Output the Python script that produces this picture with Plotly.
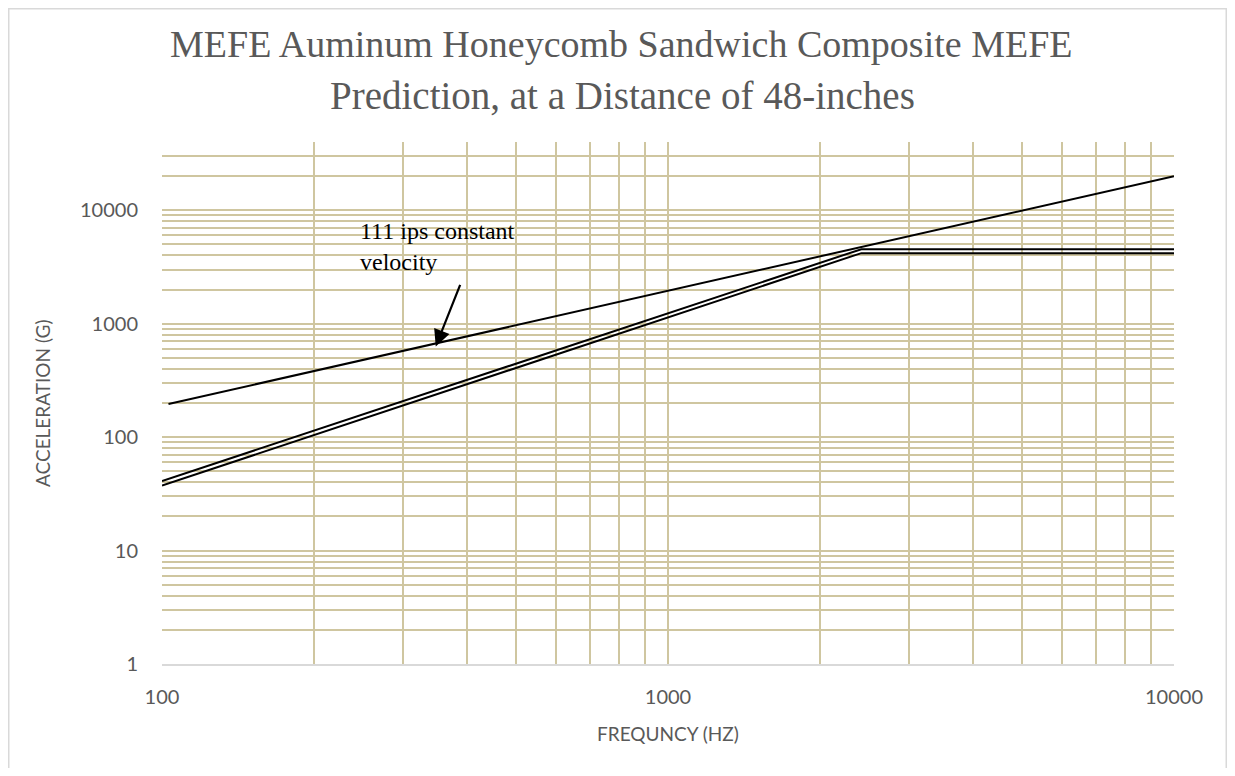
import plotly.graph_objects as go

# ---- data ----
velocity_freq = [103, 10000]
velocity_accel = [196, 20000]

mefe_freq = [100, 2410, 10000]
mefe_upper_accel = [41, 4540, 4540]
mefe_lower_accel = [37.4, 4190, 4190]

x_grid = [100, 200, 300, 400, 500, 600, 700, 800, 900,
          1000, 2000, 3000, 4000, 5000, 6000, 7000, 8000, 9000, 10000]
x_labels = {100: "100", 1000: "1000", 10000: "10000"}
y_grid = [1, 2, 3, 4, 5, 6, 7, 8, 9,
          10, 20, 30, 40, 50, 60, 70, 80, 90,
          100, 200, 300, 400, 500, 600, 700, 800, 900,
          1000, 2000, 3000, 4000, 5000, 6000, 7000, 8000, 9000,
          10000, 20000, 30000, 40000]
y_labels = {1: "1", 10: "10", 100: "100", 1000: "1000", 10000: "10000"}

title_line1 = "MEFE Auminum Honeycomb Sandwich Composite MEFE"
title_line2 = "Prediction, at a Distance of 48-inches"
note_text = "111 ips constant<br>velocity"

GRID = "#CFC6A0"
TXT = "#595959"

fig = go.Figure()
line_style = dict(color="black", width=2)
fig.add_trace(go.Scatter(x=velocity_freq, y=velocity_accel, mode="lines",
                         line=line_style, showlegend=False, hoverinfo="skip"))
fig.add_trace(go.Scatter(x=mefe_freq, y=mefe_upper_accel, mode="lines",
                         line=line_style, showlegend=False, hoverinfo="skip"))
fig.add_trace(go.Scatter(x=mefe_freq, y=mefe_lower_accel, mode="lines",
                         line=line_style, showlegend=False, hoverinfo="skip"))

# page has an 8px body margin; figure coordinates are screen minus 8
OFF = 8
W, H = 1219, 760
L, T = 162 - OFF, 142 - OFF
R = W - (1174 - OFF)
B = H - (664 - OFF)
pw, ph = W - L - R, H - T - B

def px_x(sx):
    return (sx - OFF - L) / pw

def px_y(sy):
    return (H - B - (sy - OFF)) / ph

fig.update_layout(
    width=W, height=H,
    margin=dict(l=L, r=R, t=T, b=B),
    paper_bgcolor="white", plot_bgcolor="white",
    font=dict(family="Lato, Carlito, Liberation Sans, sans-serif", color=TXT, size=20),
    showlegend=False,
)

fig.update_xaxes(
    type="log", range=[2, 4],
    tickmode="array", tickvals=x_grid,
    ticktext=[x_labels.get(v, "") for v in x_grid],
    showgrid=True, gridcolor=GRID, gridwidth=1.5,
    showline=True, linecolor="#D9D9D9", linewidth=1.5,
    ticks="", ticklabelstandoff=14,
    tickfont=dict(size=20, color=TXT),
    zeroline=False,
)
fig.update_yaxes(
    type="log", range=[0, 4.60206],
    tickmode="array", tickvals=y_grid,
    ticktext=[y_labels.get(v, "") for v in y_grid],
    showgrid=True, gridcolor=GRID, gridwidth=1.5,
    showline=False,
    ticks="", ticklabelstandoff=23,
    tickfont=dict(size=20, color=TXT),
    zeroline=False,
)

# title (two lines as separate annotations for exact line spacing)
fig.add_annotation(text=title_line1, xref="paper", yref="paper",
                   x=px_x(621), y=px_y(44), showarrow=False,
                   xanchor="center", yanchor="middle",
                   font=dict(family="Liberation Serif, serif", size=38, color=TXT))
fig.add_annotation(text=title_line2, xref="paper", yref="paper",
                   x=px_x(622), y=px_y(96), showarrow=False,
                   xanchor="center", yanchor="middle",
                   font=dict(family="Liberation Serif, serif", size=39, color=TXT))

# axis titles
fig.add_annotation(text="FREQUNCY (HZ)", xref="paper", yref="paper",
                   x=px_x(668), y=px_y(733), showarrow=False,
                   xanchor="center", yanchor="middle",
                   font=dict(size=19, color=TXT))
fig.add_annotation(text="ACCELERATION (G)", xref="paper", yref="paper",
                   x=px_x(42), y=px_y(403), showarrow=False, textangle=-90,
                   xanchor="center", yanchor="middle",
                   font=dict(size=19, color=TXT))

# note text
fig.add_annotation(text=note_text, xref="paper", yref="paper",
                   x=px_x(358), y=px_y(246), showarrow=False, align="left",
                   xanchor="left", yanchor="middle",
                   font=dict(family="Liberation Serif, Times New Roman, serif", size=24, color="black"))
# arrow
fig.add_annotation(text="", x=2.541, y=2.800, xref="x", yref="y",
                   ax=25, ay=-63, showarrow=True, arrowhead=2, arrowsize=1.5,
                   arrowwidth=2.2, arrowcolor="black")

# outer chart border
fig.add_shape(type="rect", xref="paper", yref="paper",
              x0=px_x(OFF + 0.75), x1=px_x(OFF + W - 0.75),
              y0=px_y(OFF + H + 5), y1=px_y(OFF + 0.75),
              line=dict(color="#D9D9D9", width=1.5), fillcolor="rgba(0,0,0,0)", layer="below")

fig.write_html("out.html")
